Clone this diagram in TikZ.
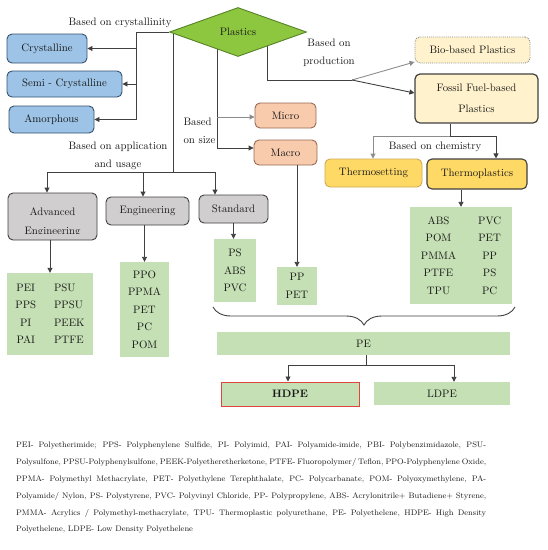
\documentclass[tikz,border=0pt]{standalone}
\usetikzlibrary{shapes.geometric,arrows.meta,decorations.pathreplacing,backgrounds}

\definecolor{plasticgreen}{RGB}{141,198,63}
\definecolor{plasticedge}{RGB}{86,130,40}
\definecolor{crystblue}{RGB}{157,195,230}
\definecolor{crystedge}{RGB}{52,82,112}
\definecolor{sizeorange}{RGB}{248,203,173}
\definecolor{sizeedge}{RGB}{150,105,85}
\definecolor{prodyellow}{RGB}{255,242,204}
\definecolor{chemgold}{RGB}{255,217,102}
\definecolor{goldedge}{RGB}{205,170,85}
\definecolor{usegray}{RGB}{208,206,206}
\definecolor{listgreen}{RGB}{197,224,180}
\definecolor{hdred}{RGB}{220,70,60}
\definecolor{darkline}{RGB}{64,64,64}
\definecolor{lightline}{RGB}{140,140,140}

\begin{document}
\begin{tikzpicture}[x=1pt,y=-1pt,
    >={Triangle[length=5pt,width=5pt]},
    every node/.style={font=\fontsize{10.8}{12}\selectfont, text=black!90},
    conn/.style={draw=darkline, line width=0.9pt},
    lightconn/.style={draw=lightline, line width=0.9pt},
    box/.style={rounded corners=5pt, line width=0.9pt, inner sep=0pt, align=center},
    crystbox/.style={box, fill=crystblue, draw=crystedge},
    sizebox/.style={box, fill=sizeorange, draw=sizeedge},
    usebox/.style={box, fill=usegray, draw=darkline},
    listbox/.style={fill=listgreen, inner sep=0pt, align=center, font=\fontsize{10.8}{17.5}\selectfont},
    lbl/.style={align=center, font=\fontsize{10.8}{18}\selectfont}]
  \useasboundingbox (0,0) rectangle (548,550);

  % root
  \node[diamond, fill=plasticgreen, draw=plasticedge, line width=0.9pt,
        minimum width=137pt, minimum height=49pt, inner sep=0pt] (plastics) at (238,32) {Plastics};

  % crystallinity
  \node[crystbox, minimum width=80pt, minimum height=29pt] (cryst) at (47,48.5) {Crystalline};
  \node[crystbox, minimum width=115pt, minimum height=26pt] (semi) at (64.5,84) {Semi - Crystalline};
  \node[crystbox, minimum width=85pt, minimum height=27pt] (amorph) at (51.5,119.5) {Amorphous};
  \node[lbl] (lblcryst) at (120,23) {Based on crystallinity};
  \coordinate (crys) at (136,32);
  \draw[conn] (plastics.west) -- (crys) -- (crys |- amorph);
  \draw[conn,->] (crys |- cryst) -- (cryst);
  \draw[conn,->] (crys |- semi) -- (semi);
  \draw[conn,->] (crys |- amorph) -- (amorph);

  % application and usage
  \node[usebox, minimum width=89pt, minimum height=47pt] (adv) at (52.5,216.5) {};
  \begin{scope}
    \clip (8,193) rectangle (97,233);
    \node[lbl, font=\fontsize{10.8}{19}\selectfont] (advtext) at (52.5,222.5) {Advanced\\Engineering};
  \end{scope}
  \node[usebox, minimum width=83pt, minimum height=28pt] (eng) at (147.5,211) {Engineering};
  \node[usebox, minimum width=69pt, minimum height=28pt] (std) at (233.5,209) {Standard};
  \node[lbl] (lblappl) at (118,156) {Based on application\\and usage};
  \coordinate (appl) at (173,172);
  \coordinate (appl1) at (47,172);
  \coordinate (appl2) at (143,172);
  \coordinate (appl3) at (215,172);
  \draw[conn] (appl1) -- (appl3);
  \draw[conn,->] (appl1) -- (appl1 |- adv.north);
  \draw[conn,->] (appl2) -- (appl2 |- eng.north);
  \draw[conn,->] (appl3) -- (appl3 |- std.north);

  \node[listbox, minimum width=86pt, minimum height=82pt] (advlist) at (50,314)
    {\begin{tabular}{@{}c@{\hspace{18pt}}l@{}}PEI & PSU\\ PPS & PPSU\\ PI & PEEK\\ PAI & PTFE\end{tabular}};
  \node[listbox, minimum width=49pt, minimum height=95pt] (englist) at (144.5,309.5)
    {PPO\\ PPMA\\ PET\\ PC\\ POM};
  \node[listbox, minimum width=42pt, minimum height=63pt] (stdlist) at (235,270.5)
    {PS\\ ABS\\ PVC};
  \draw[conn,->] (advlist.north |- adv.south) -- (advlist.north);
  \draw[conn,->] (englist.north |- eng.south) -- (englist.north);
  \draw[conn,->] (std.south) -- (std.south |- stdlist.north);

  % size
  \node[sizebox, minimum width=61pt, minimum height=25pt] (micro) at (285.5,115.5) {Micro};
  \node[sizebox, minimum width=63pt, minimum height=25pt] (macro) at (285.5,152.5) {Macro};
  \node[lbl, align=left, anchor=west] (lblsize) at (180,131) {Based\\on size};
  \coordinate (size) at (217,148);
  \coordinate (sizem) at (217,117);
  \draw[lightconn,->] (sizem) -- (micro.west |- sizem);
  \draw[conn,->] (size) -- (macro.west |- size);
  \node[listbox, minimum width=40pt, minimum height=38pt] (macrolist) at (297,286) {PP\\ PET};
  \draw[conn,->] (macrolist.north |- macro.south) -- (macrolist.north);

  % production
  \node[box, fill=prodyellow, draw=lightline, densely dotted, minimum width=115pt, minimum height=26pt] (bio) at (472.5,50) {Bio-based Plastics};
  \node[box, fill=prodyellow, draw=darkline, line width=1.2pt, minimum width=123pt, minimum height=49pt,
        font=\fontsize{10.8}{21}\selectfont] (fossil) at (476.5,98.5) {Fossil Fuel-based\\Plastics};
  \node[lbl] (lblprod) at (329,53) {Based on\\production};
  \coordinate (prod) at (267,80);
  \coordinate (prodj) at (352,80);
  \draw[conn] (prod) -- (prodj);
  \draw[lightconn,->] (prodj) -- ([yshift=-12pt]bio.west);
  \draw[conn,->] (prodj) -- ([yshift=5.5pt]fossil.west);

  % chemistry
  \node[box, fill=chemgold, draw=goldedge, minimum width=97pt, minimum height=28pt] (thset) at (373.5,173) {Thermosetting};
  \node[box, fill=chemgold, draw=darkline, line width=1.1pt, minimum width=100pt, minimum height=30pt] (thpl) at (477,174) {Thermoplastics};
  \node[lbl] (lblchem) at (435,147) {Based on chemistry};
  \coordinate (chem) at (450,136);
  \coordinate (cheml) at (373,136);
  \coordinate (chemr) at (496,136);
  \draw[conn] (fossil.south -| chem) -- (chem);
  \draw[lightconn,->] (chem) -- (cheml) -- (cheml |- thset.north);
  \draw[conn,->] (chem) -- (chemr) -- (chemr |- thpl.north);
  \node[listbox, minimum width=102pt, minimum height=97pt] (thlist) at (461,255.5)
    {\begin{tabular}{@{}c@{\hspace{22pt}}c@{}}ABS & PVC\\ POM & PET\\ PMMA & PP\\ PTFE & PS\\ TPU & PC\end{tabular}};
  \draw[conn,->] (thlist.north |- thpl.south) -- (thlist.north);

  % lines leaving the diamond
  \begin{scope}[on background layer]
    \draw[conn] (plastics -| appl) -- (appl);
    \draw[conn] (plastics -| size) -- (size);
    \draw[conn] (plastics -| prod) -- (prod);
  \end{scope}

  % polyethylene
  \coordinate (brl) at (213,307);
  \coordinate (brr) at (515,307);
  \draw[conn, decorate, decoration={brace, amplitude=18pt, aspect=0.5}] (brr) -- (brl);
  \node[listbox, minimum width=293pt, minimum height=23pt] (pe) at (363.5,343.5) {PE};
  \node[listbox, draw=hdred, line width=1pt, minimum width=138pt, minimum height=24pt,
        font=\fontsize{10.8}{12}\selectfont\bfseries] (hdpe) at (290,394) {HDPE};
  \node[listbox, minimum width=136pt, minimum height=23pt] (ldpe) at (442,393.5) {LDPE};
  \coordinate (pej) at (366,365);
  \coordinate (pel) at (288,365);
  \coordinate (per) at (454,365);
  \draw[conn] (pe.south -| pej) -- (pej);
  \draw[conn] (pel) -- (per);
  \draw[conn,->] (pel) -- (pel |- hdpe.north);
  \draw[conn,->] (per) -- (per |- ldpe.north);

  % abbreviations
  \node[anchor=north west, text width=470pt, align=justify, inner sep=0pt,
        font=\fontsize{8}{16.8}\selectfont] (abbrev) at (16,442)
    {PEI- Polyetherimide; PPS- Polyphenylene Sulfide, PI- Polyimid, PAI- Polyamide-imide, PBI- Polybenzimidazole, PSU-\linebreak
     Polysulfone, PPSU-Polyphenylsulfone, PEEK-Polyetheretherketone, PTFE- Fluoropolymer/ Teflon, PPO-Polyphenylene Oxide,\linebreak
     PPMA- Polymethyl Methacrylate, PET- Polyethylene Terephthalate, PC- Polycarbanate, POM- Polyoxymethylene, PA-\linebreak
     Polyamide/ Nylon, PS- Polystyrene, PVC- Polyvinyl Chloride, PP- Polypropylene, ABS- Acrylonitrile+ Butadiene+ Styrene,\linebreak
     PMMA- Acrylics / Polymethyl-methacrylate, TPU- Thermoplastic polyurethane, PE- Polyethelene, HDPE- High Density\linebreak
     Polyethelene, LDPE- Low Density Polyethelene};
\end{tikzpicture}
\end{document}
